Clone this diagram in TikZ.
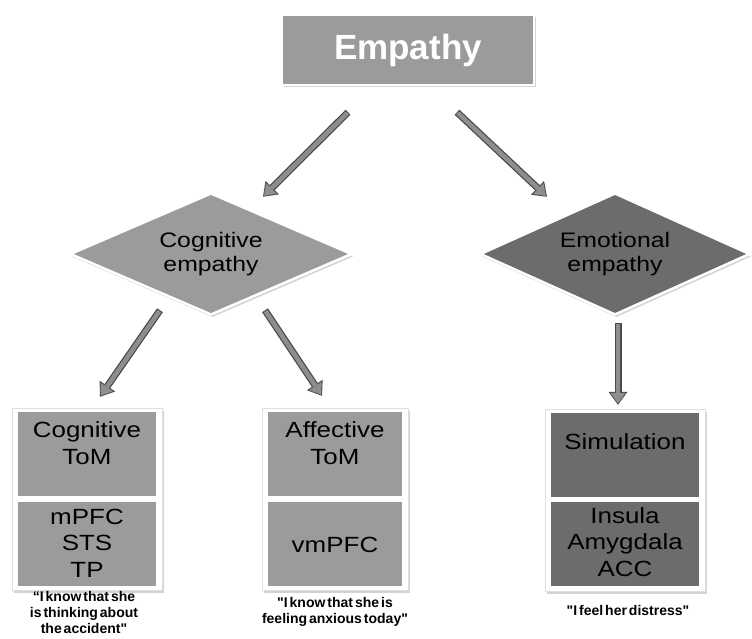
\documentclass[tikz,border=0pt]{standalone}
\usepackage{fontspec}
\setmainfont{Liberation Sans}
\newfontfamily\widesans{Liberation Sans}[FakeStretch=1.18]
\usetikzlibrary{positioning,arrows.meta,shapes.geometric,shadows}
\definecolor{panelgray}{HTML}{9B9B9B}
\definecolor{darkpanel}{HTML}{6C6C6C}
\definecolor{arrowgray}{HTML}{8E8E8E}
\definecolor{arrowedge}{HTML}{4A4A4A}
\newcommand\tightspaces{\spaceskip=.14em\relax}

\begin{document}
\begin{tikzpicture}[x=1pt,y=-1pt,
  softshadow/.style={drop shadow={shadow xshift=1.5pt,shadow yshift=-2.5pt,opacity=.35}},
  topbox/.style={draw=white,line width=2.5pt,fill=panelgray,softshadow,minimum width=252pt,minimum height=70pt,
    text=white,font=\fontsize{35}{40}\selectfont\bfseries},
  kind/.style={diamond,draw=white,line width=2.5pt,softshadow,inner sep=0pt,aspect=2.3,align=center,
    font=\widesans\fontsize{21}{24.5}\selectfont},
  boxframe/.style={fill=white,draw=gray!25,line width=.4pt,softshadow,minimum height=182pt},
  panel/.style={fill=panelgray,minimum height=84pt,inner sep=0pt},
  boxtxt/.style={align=center,font=\widesans\fontsize{22}{26.5}\selectfont},
  saying/.style={align=center,inner sep=1pt,font=\bfseries\fontsize{14}{16}\selectfont\tightspaces},
  blkout/.style={draw=arrowedge,line width=7pt,-{Triangle[length=13pt,width=19pt,line width=0pt]}},
  blkin/.style={draw=arrowgray,line width=4.5pt,-{Triangle[length=10.5pt,width=15pt,line width=0pt]},
    shorten >=1.4pt,shorten <=1pt}]
\useasboundingbox (0,0) rectangle (752,639);
% top
\node[topbox] (emp) at (408,50) {Empathy};
% two kinds of empathy
\node[kind,fill=panelgray,minimum width=282pt,minimum height=122pt] (cog) at (211,254) {Cognitive\\empathy};
\node[kind,fill=darkpanel,minimum width=270pt,minimum height=122pt] (emo) at (615,254) {Emotional\\empathy};
% cognitive tom box
\node[boxframe,minimum width=150pt] (ctomfr) at (87,499) {};
\node[panel,minimum width=138pt] (ctom) at (87,454) {};
\node[panel,minimum width=138pt] (creg) at (87,544) {};
\node[boxtxt] (ctomtx) at (87,443) {Cognitive\\ToM};
\node[boxtxt] (cregtx) at (87,543) {mPFC\\STS\\TP};
% affective tom box
\node[boxframe,minimum width=146pt] (atomfr) at (335,499) {};
\node[panel,minimum width=134pt] (atom) at (335,454) {};
\node[panel,minimum width=134pt] (areg) at (335,544) {};
\node[boxtxt] (atomtx) at (335,443) {Affective\\ToM};
\node[boxtxt] (aregtx) at (335,545) {vmPFC};
% simulation box
\node[boxframe,minimum width=160pt] (simfr) at (625,500) {};
\node[panel,fill=darkpanel,minimum width=148pt] (sim) at (625,455) {};
\node[panel,fill=darkpanel,minimum width=148pt] (sreg) at (625,544) {};
\node[boxtxt] (simtx) at (625,442) {Simulation};
\node[boxtxt] (sregtx) at (625,542) {Insula\\Amygdala\\ACC};
% sayings
\node[saying] (q1) at (84,612) {“I know that she\\is thinking about\\the accident\textquotedbl};
\node[saying] (q2) at (335,612) {\textquotedbl I know that she is\\feeling anxious today\textquotedbl};
\node[saying] (q3) at (628,610) {\textquotedbl I feel her distress\textquotedbl};
% arrows
\coordinate (a1s) at ([shift={(-60,26)}]emp.south);
\coordinate (a1e) at ([shift={(52,5)}]cog.north);
\coordinate (a2s) at ([shift={(49,26)}]emp.south);
\coordinate (a2e) at ([shift={(-68,5)}]emo.north);
\coordinate (a3s) at ([shift={(-51,-6)}]cog.south);
\coordinate (a3e) at ([shift={(13,-11)}]ctomfr.north);
\coordinate (a4s) at ([shift={(54,-6)}]cog.south);
\coordinate (a4e) at ([shift={(-13,-12)}]atomfr.north);
\coordinate (a5s) at ([shift={(3,7)}]emo.south);
\coordinate (a5e) at ([shift={(-7,-4)}]simfr.north);
\foreach \s/\t in {a1s/a1e,a2s/a2e,a3s/a3e,a4s/a4e,a5s/a5e}{
  \draw[blkout] (\s) -- (\t);
  \draw[blkin] (\s) -- (\t);
}
\end{tikzpicture}
\end{document}
